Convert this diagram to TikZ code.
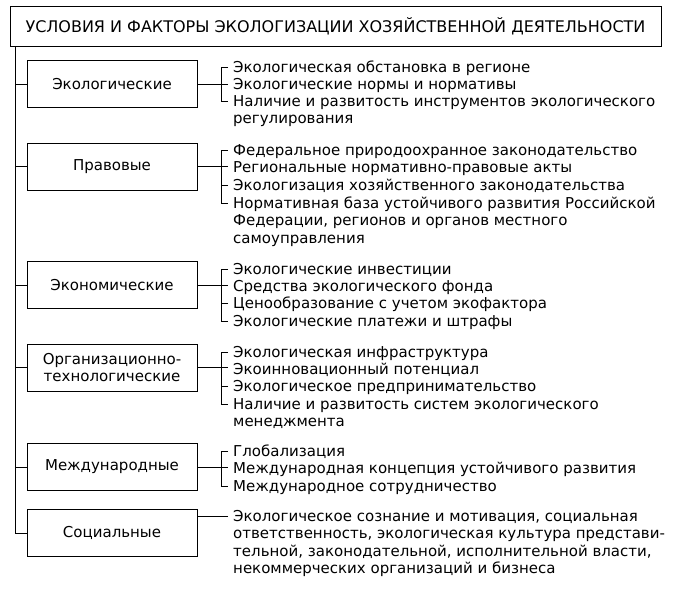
\documentclass[tikz,border=0pt]{standalone}
\usepackage{fontspec}
\setmainfont{DejaVu Sans}
\begin{document}
\begin{tikzpicture}[x=1pt,y=-1pt,
  frame/.style={draw,rectangle,minimum width=170pt,minimum height=47pt,inner sep=2pt,align=center,
    font=\fontsize{15}{17.5}\selectfont},
  item/.style={anchor=north west,inner xsep=5pt,inner ysep=0pt,align=left,
    font=\fontsize{15}{17.5}\selectfont}]
  \useasboundingbox (0,0) rectangle (673,591);

  \node[draw,rectangle,minimum width=651pt,minimum height=40pt,font=\fontsize{16}{18}\selectfont]
    (title) at (335.5,26.5) {УСЛОВИЯ И ФАКТОРЫ ЭКОЛОГИЗАЦИИ ХОЗЯЙСТВЕННОЙ ДЕЯТЕЛЬНОСТИ};
  \coordinate (top) at (15,46.5);

  % categories
  \node[frame] (eco) at (112,84) {Экологические};
  \node[frame] (pravo) at (112,166.5) {Правовые};
  \node[frame] (econ) at (112,285) {Экономические};
  \node[frame] (org) at (112,367.5) {Организационно-\\технологические};
  \node[frame] (mezh) at (112,467) {Международные};
  \node[frame] (soc) at (112,533) {Социальные};

  % trunk
  \draw (top) |- (soc.west);
  \draw (eco.west) -- (eco.west -| top);
  \draw (pravo.west) -- (pravo.west -| top);
  \draw (econ.west) -- (econ.west -| top);
  \draw (org.west) -- (org.west -| top);
  \draw (mezh.west) -- (mezh.west -| top);

  % items
  \node[item] (eco1) at (228,60) {\strut Экологическая обстановка в регионе};
  \node[item] (eco2) at (228,77) {\strut Экологические нормы и нормативы};
  \node[item] (eco3) at (228,94) {\strut Наличие и развитость инструментов экологического\\регулирования};
  \draw (eco.east) -- (eco.east -| eco2.west);
  \draw ([yshift=-7pt]eco1.north west) -- ++(-7,0) |- ([yshift=-7pt]eco3.north west);

  \node[item] (pravo1) at (228,143) {\strut Федеральное природоохранное законодательство};
  \node[item] (pravo2) at (228,160) {\strut Региональные нормативно-правовые акты};
  \node[item] (pravo3) at (228,178) {\strut Экологизация хозяйственного законодательства};
  \node[item] (pravo4) at (228,196) {\strut Нормативная база устойчивого развития Российской\\Федерации, регионов и органов местного\\самоуправления};
  \draw (pravo.east) -- (pravo.east -| pravo2.west);
  \draw ([yshift=-7pt]pravo1.north west) -- ++(-7,0) |- ([yshift=-7pt]pravo4.north west);
  \draw ([yshift=-7pt]pravo3.north west) -- ++(-7,0);

  \node[item] (econ1) at (228,262) {\strut Экологические инвестиции};
  \node[item] (econ2) at (228,279) {\strut Средства экологического фонда};
  \node[item] (econ3) at (228,296) {\strut Ценообразование с учетом экофактора};
  \node[item] (econ4) at (228,314) {\strut Экологические платежи и штрафы};
  \draw (econ.east) -- (econ.east -| econ2.west);
  \draw ([yshift=-7pt]econ1.north west) -- ++(-7,0) |- ([yshift=-7pt]econ4.north west);
  \draw ([yshift=-7pt]econ3.north west) -- ++(-7,0);

  \node[item] (org1) at (228,345) {\strut Экологическая инфраструктура};
  \node[item] (org2) at (228,362) {\strut Экоинновационный потенциал};
  \node[item] (org3) at (228,379) {\strut Экологическое предпринимательство};
  \node[item] (org4) at (228,397) {\strut Наличие и развитость систем экологического\\менеджмента};
  \draw (org.east) -- (org.east -| org2.west);
  \draw ([yshift=-7pt]org1.north west) -- ++(-7,0) |- ([yshift=-7pt]org4.north west);
  \draw ([yshift=-7pt]org3.north west) -- ++(-7,0);

  \node[item] (mezh1) at (228,444) {\strut Глобализация};
  \node[item] (mezh2) at (228,461) {\strut Международная концепция устойчивого развития};
  \node[item] (mezh3) at (228,479) {\strut Международное сотрудничество};
  \draw (mezh.east) -- (mezh.east -| mezh2.west);
  \draw ([yshift=-7pt]mezh1.north west) -- ++(-7,0) |- ([yshift=-7pt]mezh3.north west);

  \node[item] (soc1) at (228,509) {\strut Экологическое сознание и мотивация, социальная\\ответственность, экологическая культура представи-\\тельной, законодательной, исполнительной власти,\\некоммерческих организаций и бизнеса};
  \draw ([yshift=-7pt]soc1.north west) -- ([yshift=-7pt]soc1.north west -| soc.east);
\end{tikzpicture}
\end{document}
